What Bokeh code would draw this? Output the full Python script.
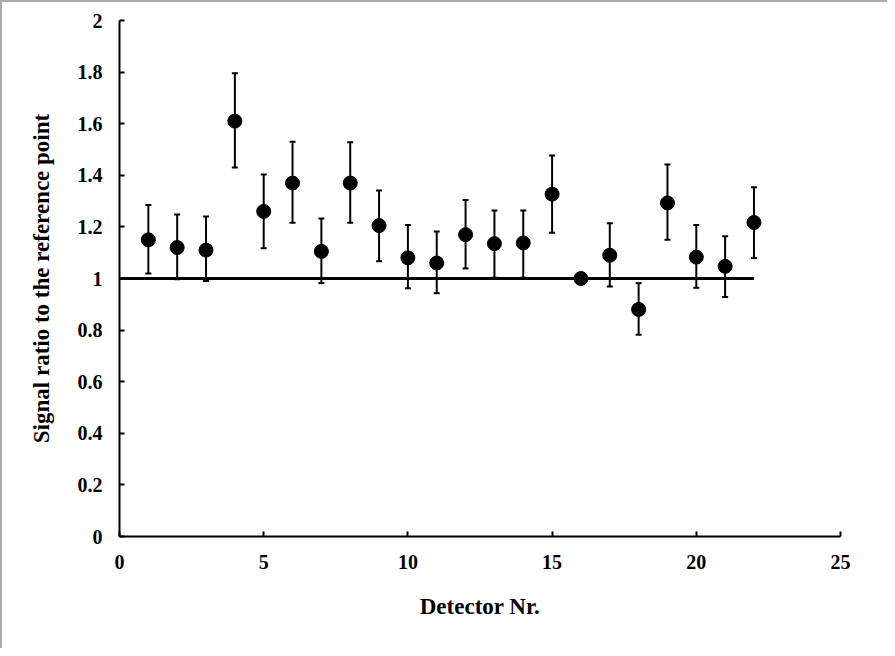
from bokeh.plotting import figure
from bokeh.models import ColumnDataSource, Whisker, TeeHead, FixedTicker, CustomJSTickFormatter, Range1d
from bokeh.embed import file_html
from bokeh.resources import INLINE

detector = list(range(1, 23))
ratio = [1.15, 1.12, 1.11, 1.61, 1.26, 1.37, 1.105, 1.37, 1.205, 1.08, 1.06,
         1.17, 1.135, 1.138, 1.327, 1.0, 1.09, 0.88, 1.293, 1.083, 1.047, 1.217]
upper = [1.285, 1.248, 1.24, 1.796, 1.403, 1.53, 1.233, 1.528, 1.341, 1.207, 1.182,
         1.304, 1.264, 1.264, 1.477, 1.0, 1.214, 0.982, 1.442, 1.207, 1.164, 1.354]
lower = [1.019, 0.997, 0.99, 1.43, 1.117, 1.216, 0.982, 1.216, 1.067, 0.962, 0.943,
         1.039, 1.003, 1.003, 1.177, 1.0, 0.969, 0.782, 1.15, 0.964, 0.928, 1.079]
ref_x = [0, 22]
ref_y = [1, 1]
x_ticks = [0, 5, 10, 15, 20, 25]
y_ticks = [0, 0.2, 0.4, 0.6, 0.8, 1.0, 1.2, 1.4, 1.6, 1.8, 2.0]

FONT = "Liberation Serif"

p = figure(width=887, height=648, output_backend="svg", toolbar_location=None,
           x_range=Range1d(0, 25), y_range=Range1d(0, 2),
           min_border_left=117, min_border_right=49, min_border_top=18, min_border_bottom=114)
p.styles = {"border-top": "2px solid #aaaaaa", "border-left": "2px solid #aaaaaa",
            "box-sizing": "border-box"}
p.grid.visible = False
p.outline_line_color = None
p.background_fill_color = "white"
p.border_fill_color = "white"

for ax in (p.xaxis[0], p.yaxis[0]):
    ax.axis_line_width = 2
    ax.axis_line_color = "black"
    ax.major_tick_in = 5
    ax.major_tick_out = 0
    ax.major_tick_line_width = 2
    ax.minor_tick_line_color = None
    ax.major_label_text_font = FONT
    ax.major_label_text_font_style = "bold"
    ax.major_label_text_font_size = "20px"
    ax.major_label_text_color = "black"
    ax.axis_label_text_font = FONT
    ax.axis_label_text_font_style = "bold"
    ax.axis_label_text_font_size = "23px"
    ax.axis_label_text_color = "black"

p.xaxis.ticker = FixedTicker(ticks=x_ticks)
p.yaxis.ticker = FixedTicker(ticks=y_ticks)
p.yaxis.formatter = CustomJSTickFormatter(code="return Number(tick.toFixed(1)).toString();")
p.xaxis.major_label_standoff = 18
p.yaxis.major_label_standoff = 17
p.xaxis.axis_label = "Detector Nr."
p.yaxis.axis_label = "Signal ratio to the reference point"
p.xaxis.axis_label_standoff = 22
p.yaxis.axis_label_standoff = 21

p.line(ref_x, ref_y, line_color="black", line_width=3)

err_idx = [i for i in range(len(detector)) if upper[i] != lower[i]]
err_src = ColumnDataSource(dict(x=[detector[i] for i in err_idx],
                                upper=[upper[i] for i in err_idx],
                                lower=[lower[i] for i in err_idx]))
w = Whisker(source=err_src, base="x", upper="upper", lower="lower",
            line_color="black", line_width=2,
            upper_head=TeeHead(size=6, line_color="black", line_width=2),
            lower_head=TeeHead(size=6, line_color="black", line_width=2))
p.add_layout(w)

src = ColumnDataSource(dict(x=detector, y=ratio))
p.scatter("x", "y", source=src, size=14, fill_color="black", line_color="black")

open("out.html", "w").write(file_html(p, INLINE))
